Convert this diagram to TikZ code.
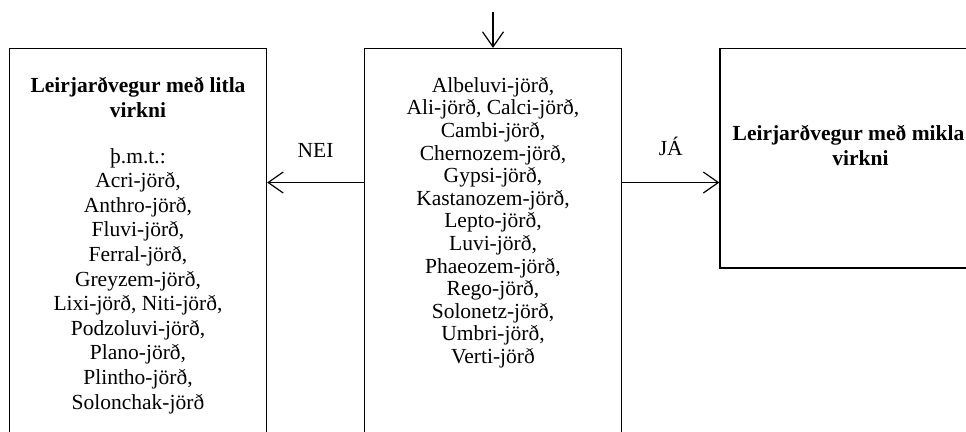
\documentclass[tikz,border=0pt]{standalone}
\usepackage{fontspec}
\setmainfont{Liberation Serif}
\usetikzlibrary{arrows.meta}
\begin{document}
\begin{tikzpicture}[x=1pt,y=-1pt,
  box/.style={draw,line width=1.3pt,rectangle,inner sep=0pt},
  arr/.style={line width=1.2pt,-{Straight Barb[length=15pt,width=21pt,line width=1.2pt]}},
  txt/.style={inner sep=0pt,align=center,font=\fontsize{21.5}{24.6}\selectfont},
  midtxt/.style={inner sep=0pt,align=center,font=\fontsize{21.5}{22.6}\selectfont},
  lbl/.style={inner sep=0pt,font=\fontsize{21.5}{24.6}\selectfont}]
\useasboundingbox (0,0) rectangle (966,431);
\clip (0,0) rectangle (966,431);
\node[box,minimum width=257pt,minimum height=411.5pt] (left) at (138,254.25) {};
\node[box,minimum width=257pt,minimum height=411.5pt] (mid) at (493,254.25) {};
\node[box,minimum width=257pt,minimum height=219.5pt] (right) at (848.5,158.25) {};
\coordinate (top) at (493,12);
\node[txt,anchor=north] (ltitle) at (138,77) {\textbf{Leirjarðvegur með litla}\\\textbf{virkni}};
\node[txt,anchor=north] (llist) at (138,148) {þ.m.t.:\\Acri-jörð,\\Anthro-jörð,\\Fluvi-jörð,\\Ferral-jörð,\\Greyzem-jörð,\\Lixi-jörð, Niti-jörð,\\Podzoluvi-jörð,\\Plano-jörð,\\Plintho-jörð,\\Solonchak-jörð};
\node[midtxt,anchor=north] (mlist) at (493,77) {Albeluvi-jörð,\\Ali-jörð, Calci-jörð,\\Cambi-jörð,\\Chernozem-jörð,\\Gypsi-jörð,\\Kastanozem-jörð,\\Lepto-jörð,\\Luvi-jörð,\\Phaeozem-jörð,\\Rego-jörð,\\Solonetz-jörð,\\Umbri-jörð,\\Verti-jörð};
\node[txt,anchor=north] (rtitle) at (848.5,125) {\textbf{Leirjarðvegur með mikla}\\\hspace*{24pt}\textbf{virkni}};
\draw[arr] (top) -- (mid.north);
\draw[arr] (mid.west |- 0,182.5) -- (left.east |- 0,182.5) node[lbl,midway,anchor=base,yshift=25pt] {NEI};
\draw[arr] (mid.east |- 0,182.5) -- (right.west |- 0,182.5) node[lbl,midway,anchor=base,yshift=27pt] {JÁ};
\end{tikzpicture}
\end{document}
